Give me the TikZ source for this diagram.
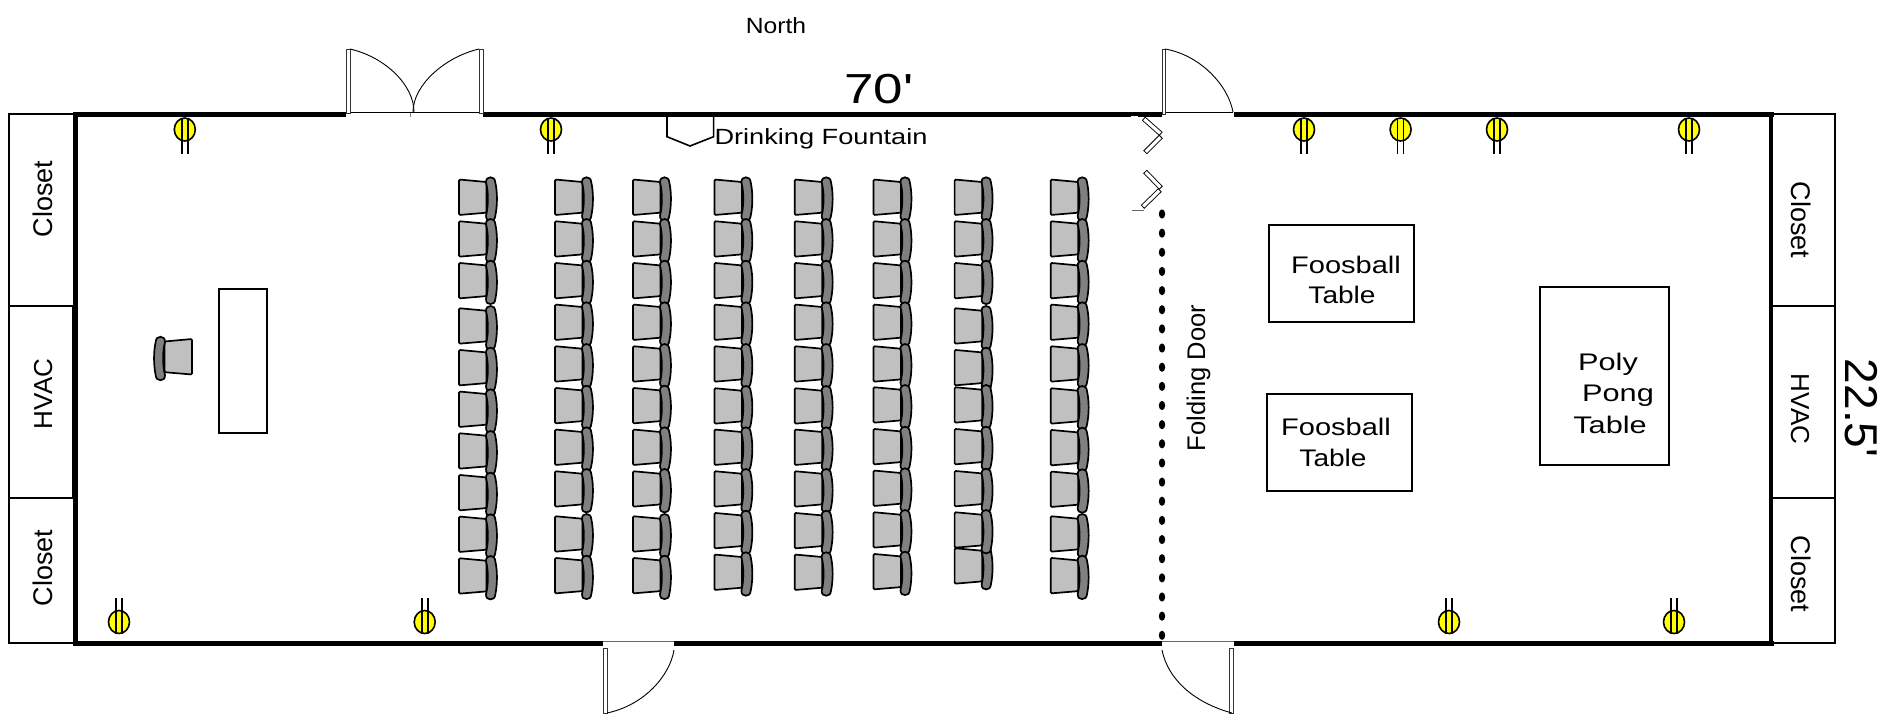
\documentclass[tikz,border=0pt]{standalone}
\usepackage{graphicx}
\usepackage{fontspec}
\setmainfont{Liberation Sans}
\newfontfamily\straightq{Liberation Sans}
\newcommand\wtxt[3]{\fontsize{#1}{#1}\selectfont\scalebox{#2}[1]{#3}}
\newcommand\rtxt[2]{\fontsize{#1}{#1}\selectfont #2}
\tikzset{
  wall/.style={line width=5pt,black},
  sidewall/.style={line width=4.5pt,black},
  thin/.style={line width=1.1pt,black},
  leaf/.style={line width=0.9pt,black!80,fill=white},
  swing/.style={line width=0.9pt,black},
  boxed/.style={line width=1.6pt,black,fill=white},
  lab/.style={inner sep=0pt,outer sep=0pt,anchor=base,black},
  chairR/.pic={
    \draw[line width=1.7pt,fill=seatgray,rounded corners=1.2pt] (0,2.2) -- (27.5,4.7) -- (27.5,35.4) -- (0,37.7) -- cycle;
    \draw[line width=1.7pt,fill=backgray] (27,5) .. controls (27,1.5) and (29,0) .. (31.5,0) .. controls (34,0) and (36,1.5) .. (36.3,5) .. controls (38.5,15) and (38.5,28) .. (36.3,38.5) .. controls (36,42) and (34,43.4) .. (31.5,43.4) .. controls (29,43.4) and (27,42) .. (27,38.5) .. controls (29.5,28) and (29.5,15) .. (27,5) -- cycle;
  },
  lampT/.pic={
    \draw[line width=1.6pt,fill=lampyellow] (0,0) ellipse [x radius=10.5,y radius=11.5];
    \draw[line width=1.6pt] (-3,-11.5) -- (-3,24) (3,-11.5) -- (3,24);
  },
  lampB/.pic={
    \draw[line width=1.6pt,fill=lampyellow] (0,0) ellipse [x radius=10.5,y radius=11.5];
    \draw[line width=1.6pt] (-3,11.5) -- (-3,-24) (3,11.5) -- (3,-24);
  }
}
\definecolor{seatgray}{HTML}{C0C0C0}
\definecolor{backgray}{HTML}{808080}
\definecolor{lampyellow}{HTML}{FFFF00}
\begin{document}
\begin{tikzpicture}[x=1pt,y=-1pt]
\useasboundingbox[fill=white] (0,0) rectangle (1889,717);

% closets
\draw[boxed] (9,114) rectangle (75,306);
\draw[boxed] (9,306) rectangle (73,498);
\draw[boxed] (9,498) rectangle (75,643);
\draw[boxed] (1771,114) rectangle (1835,306);
\draw[boxed] (1771,306) rectangle (1835,498);
\draw[boxed] (1771,498) rectangle (1835,643);

% walls
\draw[wall] (73,114.5) -- (346,114.5);
\draw[wall] (483,114.5) -- (1162,114.5);
\draw[wall] (1234,114.5) -- (1774,114.5);
\draw[wall] (73,643) -- (603,643);
\draw[wall] (674,643) -- (1162,643);
\draw[wall] (1234,643) -- (1774,643);
\draw[sidewall] (75.5,114) -- (75.5,643);
\draw[sidewall] (1771,114) -- (1771,643);
\fill[white] (1131,115.7) rectangle (1138,117.5);

% door thresholds
\draw[thin] (350,112.5) -- (479,112.5);
\draw[thin] (1165,112.5) -- (1233,112.5);
\draw[line width=0.8pt,black!60] (603,641) -- (674,641);
\draw[line width=0.8pt,black!60] (1162,641) -- (1234,641);
\draw[line width=0.6pt,black!50] (410,113) -- (410,117);

% door leaves
\draw[leaf] (346,49) rectangle (350,113);
\draw[leaf] (479,49) rectangle (483,113);
\draw[leaf] (1162,49) rectangle (1165.5,114);
\draw[leaf] (603.5,648.7) rectangle (607,713);
\draw[leaf] (1229.5,648.7) rectangle (1233.5,713);

% door swings
\draw[swing] (350,49) .. controls (385,57) and (414,85) .. (414,112);
\draw[swing] (479,49) .. controls (445,57) and (413,85) .. (413,112);
\draw[swing] (1165,49) .. controls (1200,55) and (1228,85) .. (1233,112);
\draw[swing] (607,713) .. controls (645,705) and (670,675) .. (674,650);
\draw[swing] (1232,713) .. controls (1195,703) and (1168,680) .. (1162,650);

% folded door panels
\foreach \ax/\ay/\bx/\by in {1143.5/118.5/1161/134,1161/136.5/1145/152.5,1145/171.5/1161/188,1160/190/1142.5/207}{
  \draw[line width=5pt,black,line cap=butt] (\ax,\ay) -- (\bx,\by);
  \draw[line width=3.2pt,white,line cap=butt,shorten <=1pt,shorten >=1pt] (\ax,\ay) -- (\bx,\by);
}
\draw[line width=1pt,black!60] (1132,210.7) -- (1144,210.7);

% folding wall dots
\foreach \k in {0,...,22}{
  \fill[black] (1162,214+19.15*\k) ellipse [x radius=3.2,y radius=4.6];
}

% drinking fountain
\draw[line width=1.6pt] (667,117) -- (667,136.7) -- (690,146) -- (713.6,136.7) -- (713.6,117);

% lamps
\foreach \p in {184.8,551,1304,1400.6,1497,1689}{
  \pic at (\p,129.5) {lampT};
}
\foreach \p in {119,424.7,1449,1674}{
  \pic at (\p,622) {lampB};
}

% desk and tables
\draw[boxed] (219,289) rectangle (267,433);
\draw[boxed] (1269,225) rectangle (1414,322);
\draw[boxed] (1267,394) rectangle (1412,491);
\draw[boxed] (1540,287) rectangle (1669,465);

% presenter chair
\pic[xscale=-1] at (192,336.8) {chairR};

% audience chairs
\foreach \cx in {459}{\foreach \cy in {177.3,219,260.7,306,347.7,389.3,431,472.7,514.3,556}{\pic at (\cx,\cy) {chairR};}}
\foreach \cx in {555,633}{\foreach \cy in {177.3,219,260.7,302.3,344,385.7,427.3,469,514,555.7}{\pic at (\cx,\cy) {chairR};}}
\foreach \cx in {714.4,794.7}{\foreach \cy in {177.3,219,260.7,302.3,344,386,427.3,469,510.7,552.3}{\pic at (\cx,\cy) {chairR};}}
\foreach \cx in {873.5}{\foreach \cy in {177.3,219,260.7,302.3,344,385,426.7,468.3,510,551.7}{\pic at (\cx,\cy) {chairR};}}
\pic at (954.6,546) {chairR};
\foreach \cy in {177.3,219,260.7,306,347.7,385,426.7,468.7,510}{\pic at (954.6,\cy) {chairR};}
\foreach \cx in {1050.7}{\foreach \cy in {177.3,219,260.7,302.3,344,386,427.7,469.3,514,555.7}{\pic at (\cx,\cy) {chairR};}}

% labels
\node[lab] (north) at (776,34) {\wtxt{22}{1.12}{North}};
\node[lab] (len) at (879,103) {\wtxt{42}{1.26}{\straightq 70'}};
\node[lab] (fountain) at (821,144) {\wtxt{22}{1.235}{Drinking Fountain}};
\node[lab,rotate=90] (cl1) at (52,199) {\rtxt{27}{Closet}};
\node[lab,rotate=90] (hv1) at (52,394) {\rtxt{26}{HVAC}};
\node[lab,rotate=90] (cl2) at (52,568) {\rtxt{27}{Closet}};
\node[lab,rotate=-90] (cl3) at (1791,220) {\rtxt{27}{Closet}};
\node[lab,rotate=-90] (hv2) at (1791,409) {\rtxt{26}{HVAC}};
\node[lab,rotate=-90] (cl4) at (1791,574) {\rtxt{27}{Closet}};
\node[lab,rotate=-90] (wid) at (1845,408) {\rtxt{46}{\straightq 22.5'}};
\node[lab,rotate=90] (fold) at (1205,378) {\rtxt{25.5}{Folding Door}};
\node[lab] (t1a) at (1346,273) {\wtxt{24}{1.21}{Foosball}};
\node[lab] (t1b) at (1342,303) {\wtxt{24}{1.17}{Table}};
\node[lab] (t2a) at (1336,435) {\wtxt{24}{1.21}{Foosball}};
\node[lab] (t2b) at (1333,466) {\wtxt{24}{1.17}{Table}};
\node[lab] (p1) at (1608,370) {\wtxt{24}{1.28}{Poly}};
\node[lab] (p2) at (1618,401.7) {\wtxt{24}{1.28}{Pong}};
\node[lab] (p3) at (1610,433) {\wtxt{24}{1.28}{Table}};
\end{tikzpicture}
\end{document}
